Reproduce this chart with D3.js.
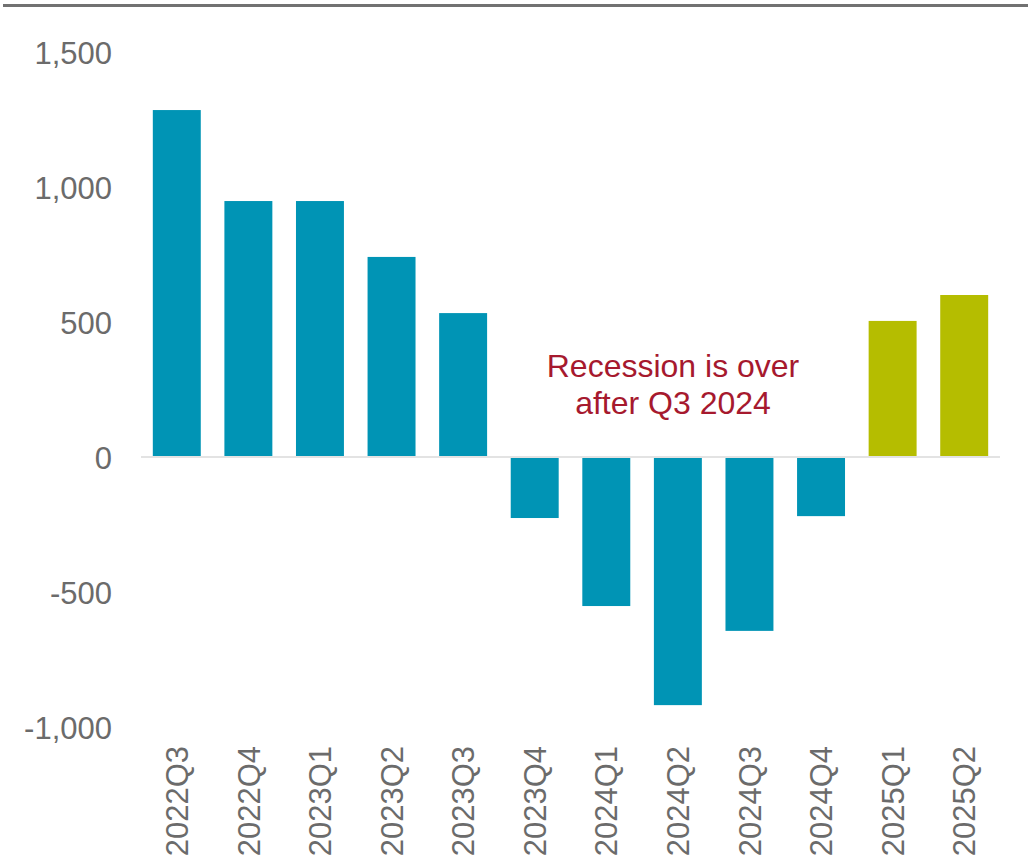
<!DOCTYPE html>
<html>
<head>
<meta charset="utf-8">
<script src="https://cdn.jsdelivr.net/npm/d3@7"></script>
<style>
  html, body { margin: 0; padding: 0; background: #fff; }
  svg { display: block; font-family: Arial, "Liberation Sans", sans-serif; }
</style>
</head>
<body>
<svg id="chart" width="1028" height="863"></svg>
<script>
const categories = ["2022Q3","2022Q4","2023Q1","2023Q2","2023Q3","2023Q4","2024Q1","2024Q2","2024Q3","2024Q4","2025Q1","2025Q2"];
const values = [1285, 948, 948, 741, 533, -226, -552, -919, -644, -219, 504, 600];
const forecast = [false, false, false, false, false, false, false, false, false, false, true, true];
const yTicks = [-1000, -500, 0, 500, 1000, 1500];
const annotationLines = ["Recession is over", "after Q3 2024"];

const svg = d3.select("#chart");

const x = d3.scaleBand()
  .domain(categories)
  .range([141, 1000])
  .paddingInner(0.33)
  .paddingOuter(0.165);

const y = d3.scaleLinear()
  .domain([-1000, 1500])
  .range([727, 52]);

// top rule
svg.append("line")
  .attr("x1", 3).attr("x2", 1028)
  .attr("y1", 5.5).attr("y2", 5.5)
  .attr("stroke", "#717171").attr("stroke-width", 3);

// y axis labels
const fmt = d3.format(",");
const yAxis = d3.axisLeft(y).tickValues(yTicks).tickFormat(d => fmt(d).replace("\u2212", "-")).tickSize(0).tickPadding(0);
const yg = svg.append("g").attr("transform", "translate(112,0)").call(yAxis);
yg.select(".domain").remove();
yg.selectAll("text")
  .attr("font-size", 31)
  .attr("fill", "#6b6b6b")
  .attr("font-family", "Arial, 'Liberation Sans', sans-serif")
  .attr("dy", "0.36em");

// bars
svg.append("g").selectAll("rect")
  .data(categories)
  .join("rect")
  .attr("x", d => x(d))
  .attr("width", x.bandwidth())
  .attr("y", (d, i) => Math.min(y(values[i]), y(0)))
  .attr("height", (d, i) => Math.abs(y(values[i]) - y(0)))
  .attr("fill", (d, i) => forecast[i] ? "#b5bd00" : "#0094b5");

// zero line
svg.append("line")
  .attr("x1", 141).attr("x2", 1000)
  .attr("y1", y(0)).attr("y2", y(0))
  .attr("stroke", "#e3e3e3").attr("stroke-width", 2);

// x axis labels (rotated)
const xAxis = d3.axisBottom(x).tickSize(0).tickPadding(0);
const xg = svg.append("g").attr("transform", "translate(0,746)").call(xAxis);
xg.select(".domain").remove();
xg.selectAll("text")
  .attr("font-size", 31)
  .attr("fill", "#6b6b6b")
  .attr("font-family", "Arial, 'Liberation Sans', sans-serif")
  .attr("text-anchor", "end")
  .attr("transform", "rotate(-90)")
  .attr("x", 0)
  .attr("y", 0)
  .attr("dy", "0.36em");

// annotation
svg.append("text")
  .attr("x", 673)
  .attr("text-anchor", "middle")
  .attr("font-size", 32)
  .attr("fill", "#a6192e")
  .selectAll("tspan")
  .data(annotationLines)
  .join("tspan")
  .attr("x", 673)
  .attr("y", (d, i) => 377 + i * 37)
  .text(d => d);
</script>
</body>
</html>
